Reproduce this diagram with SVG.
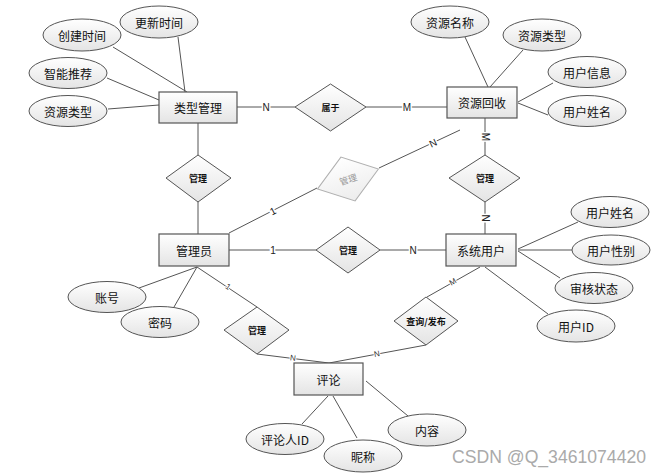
<svg xmlns="http://www.w3.org/2000/svg" width="662" height="475" viewBox="0 0 662 475">
<defs>
<linearGradient id="g" x1="0" y1="0" x2="0" y2="1">
<stop offset="0" stop-color="#ffffff"/>
<stop offset="1" stop-color="#e4e4e4"/>
</linearGradient>
<linearGradient id="gl" x1="0" y1="0" x2="0" y2="1">
<stop offset="0" stop-color="#ffffff"/>
<stop offset="1" stop-color="#ececec"/>
</linearGradient>
</defs>
<style>
.ent{fill:url(#g);stroke:#555;stroke-width:1.2}
.att{fill:url(#g);stroke:#555;stroke-width:1}
.rel{fill:url(#g);stroke:#555;stroke-width:1}
.relg{fill:url(#gl);stroke:#b0b0b0;stroke-width:1}
.t{font-family:"Noto Sans CJK SC","Liberation Sans",sans-serif;font-size:12px;fill:#111;text-anchor:middle;dominant-baseline:central}
.rt{font-family:"Noto Sans CJK SC","Liberation Sans",sans-serif;font-size:9px;font-weight:bold;fill:#111;text-anchor:middle;dominant-baseline:central}
.rtg{font-family:"Noto Sans CJK SC","Liberation Sans",sans-serif;font-size:9px;fill:#999;text-anchor:middle;dominant-baseline:central}
.ln{stroke:#555;stroke-width:1;fill:none}
.lb{font-family:"Liberation Sans",sans-serif;font-size:10px;fill:#222;text-anchor:middle;dominant-baseline:central;stroke:#fff;stroke-width:3;paint-order:stroke}
.lbs{font-family:"Liberation Sans",sans-serif;font-size:8px;fill:#333;text-anchor:middle;dominant-baseline:central;stroke:#fff;stroke-width:2;paint-order:stroke}
.wm{font-family:"Liberation Sans",sans-serif;font-size:17.5px;fill:#aaa}
</style>
<g id="connectors">
<line class="ln" x1="113" y1="47" x2="187" y2="92"/>
<line class="ln" x1="178" y1="37" x2="185" y2="92"/>
<line class="ln" x1="107" y1="78" x2="159" y2="100"/>
<line class="ln" x1="108" y1="109" x2="159" y2="105"/>
<line class="ln" x1="237" y1="107" x2="295" y2="107"/>
<line class="ln" x1="366" y1="107" x2="447" y2="107"/>
<line class="ln" x1="198" y1="123" x2="198" y2="155"/>
<line class="ln" x1="198" y1="202" x2="198" y2="234"/>
<line class="ln" x1="229" y1="233" x2="317" y2="188"/>
<line class="ln" x1="379" y1="168" x2="460" y2="130"/>
<line class="ln" x1="465" y1="37" x2="488" y2="87"/>
<line class="ln" x1="523" y1="50" x2="490" y2="87"/>
<line class="ln" x1="553" y1="83" x2="518" y2="102"/>
<line class="ln" x1="548" y1="115" x2="518" y2="103" stroke-width="1.6"/>
<line class="ln" x1="485" y1="118" x2="485" y2="155"/>
<line class="ln" x1="485" y1="202" x2="485" y2="234"/>
<line class="ln" x1="229" y1="250" x2="316" y2="250"/>
<line class="ln" x1="380" y1="250" x2="446" y2="250"/>
<line class="ln" x1="139" y1="288" x2="197" y2="267"/>
<line class="ln" x1="174" y1="307" x2="197" y2="267"/>
<line class="ln" x1="197" y1="267" x2="257" y2="307"/>
<line class="ln" x1="257" y1="354" x2="329" y2="363"/>
<line class="ln" x1="427" y1="297" x2="480" y2="267"/>
<line class="ln" x1="426" y1="345" x2="329" y2="363"/>
<line class="ln" x1="518" y1="249" x2="578" y2="222"/>
<line class="ln" x1="518" y1="250" x2="572" y2="250" stroke-width="1.4"/>
<line class="ln" x1="518" y1="251" x2="560" y2="278"/>
<line class="ln" x1="485" y1="267" x2="548" y2="314"/>
<line class="ln" x1="302" y1="424" x2="328" y2="396"/>
<line class="ln" x1="333" y1="396" x2="357" y2="438"/>
<line class="ln" x1="366" y1="381" x2="408" y2="416"/>
<text class="lb" x="266" y="107">N</text>
<text class="lb" x="407" y="107">M</text>
<text class="lb" x="273" y="211" transform="rotate(-27 273 211)">1</text>
<text class="lb" x="433" y="143" transform="rotate(-25 433 143)">N</text>
<text class="lb" x="485" y="137" transform="rotate(90 485 137)">M</text>
<text class="lb" x="485" y="218" transform="rotate(90 485 218)">N</text>
<text class="lb" x="273" y="250">1</text>
<text class="lb" x="413" y="250">N</text>
<text class="lbs" x="228" y="287" transform="rotate(34 228 287)">1</text>
<text class="lbs" x="293" y="358" transform="rotate(7 293 358)">N</text>
<text class="lbs" x="453" y="282" transform="rotate(-30 453 282)">M</text>
<text class="lbs" x="377" y="354" transform="rotate(-10 377 354)">N</text>
</g>
<g id="leixing">
<rect class="ent" x="159" y="92" width="78" height="31"/>
<text class="t" x="198" y="107.5">类型管理</text>
</g>
<g id="chuangjian"><ellipse class="att" cx="82" cy="35" rx="39" ry="16"/><text class="t" x="82" y="35">创建时间</text></g>
<g id="gengxin"><ellipse class="att" cx="159" cy="22" rx="39" ry="16"/><text class="t" x="159" y="22">更新时间</text></g>
<g id="zhineng"><ellipse class="att" cx="68" cy="73" rx="39" ry="15.5"/><text class="t" x="68" y="73">智能推荐</text></g>
<g id="ziyuanleixing1"><ellipse class="att" cx="68" cy="111" rx="39" ry="15.5"/><text class="t" x="68" y="111">资源类型</text></g>
<g id="shuyu">
<polygon class="rel" points="295,107 330.5,84 366,107 330.5,131"/>
<text class="rt" x="330.5" y="107.5">属于</text>
</g>
<g id="ziyuanhuishou">
<rect class="ent" x="447" y="87" width="70" height="31"/>
<text class="t" x="482" y="102.5">资源回收</text>
</g>
<g id="ziyuanmingcheng"><ellipse class="att" cx="450" cy="22" rx="39" ry="16"/><text class="t" x="450" y="22">资源名称</text></g>
<g id="ziyuanleixing2"><ellipse class="att" cx="542" cy="35" rx="39" ry="16"/><text class="t" x="542" y="35">资源类型</text></g>
<g id="yonghuxinxi"><ellipse class="att" cx="587" cy="72" rx="39" ry="15.5"/><text class="t" x="587" y="72">用户信息</text></g>
<g id="yonghuxingming1"><ellipse class="att" cx="587" cy="111" rx="39" ry="15.5"/><text class="t" x="587" y="111">用户姓名</text></g>
<g id="guanli1">
<polygon class="rel" points="166,178 198,155 231,178 198,202"/>
<text class="rt" x="198" y="178.5">管理</text>
</g>
<g id="guanli_grey" transform="rotate(-18 348 179)">
<polygon class="relg" points="316,179 348,156 380,179 348,202"/>
<text class="rtg" x="348" y="179.5">管理</text>
</g>
<g id="guanli2">
<polygon class="rel" points="449,178 485,155 520,178 485,202"/>
<text class="rt" x="485" y="178.5">管理</text>
</g>
<g id="guanliyuan">
<rect class="ent" x="159" y="234" width="70" height="32"/>
<text class="t" x="194" y="250">管理员</text>
</g>
<g id="guanli3">
<polygon class="rel" points="316,250 348,227 380,250 348,273"/>
<text class="rt" x="348" y="250.5">管理</text>
</g>
<g id="xitongyonghu">
<rect class="ent" x="446" y="234" width="70" height="32"/>
<text class="t" x="481" y="250">系统用户</text>
</g>
<g id="yonghuxingming2"><ellipse class="att" cx="610" cy="212" rx="39" ry="15.5"/><text class="t" x="610" y="212">用户姓名</text></g>
<g id="yonghuxingbie"><ellipse class="att" cx="611" cy="250" rx="39" ry="15"/><text class="t" x="611" y="250">用户性别</text></g>
<g id="shenhe"><ellipse class="att" cx="594" cy="288" rx="39" ry="15.5"/><text class="t" x="594" y="288">审核状态</text></g>
<g id="yonghuid"><ellipse class="att" cx="576" cy="326" rx="39" ry="16"/><text class="t" x="576" y="326">用户ID</text></g>
<g id="zhanghao"><ellipse class="att" cx="107" cy="297" rx="39" ry="15.5"/><text class="t" x="107" y="297">账号</text></g>
<g id="mima"><ellipse class="att" cx="160" cy="322" rx="39" ry="15.5"/><text class="t" x="160" y="322">密码</text></g>
<g id="guanli4">
<polygon class="rel" points="224,330 257,307 289,330 257,354"/>
<text class="rt" x="257" y="330.5">管理</text>
</g>
<g id="chaxun">
<polygon class="rel" points="394,321 426,297 458,321 426,345"/>
<text class="rt" x="426" y="321.5">查询/发布</text>
</g>
<g id="pinglun">
<rect class="ent" x="294" y="363" width="69" height="32"/>
<text class="t" x="328.5" y="379">评论</text>
</g>
<g id="pinglunren"><ellipse class="att" cx="285" cy="439" rx="39" ry="15.5"/><text class="t" x="285" y="439">评论人ID</text></g>
<g id="nicheng"><ellipse class="att" cx="363" cy="456" rx="39" ry="16"/><text class="t" x="363" y="456">昵称</text></g>
<g id="neirong"><ellipse class="att" cx="427" cy="430" rx="39" ry="16"/><text class="t" x="427" y="430">内容</text></g>
<text class="wm" x="452" y="463" textLength="194" lengthAdjust="spacingAndGlyphs">CSDN @Q_3461074420</text>
</svg>
